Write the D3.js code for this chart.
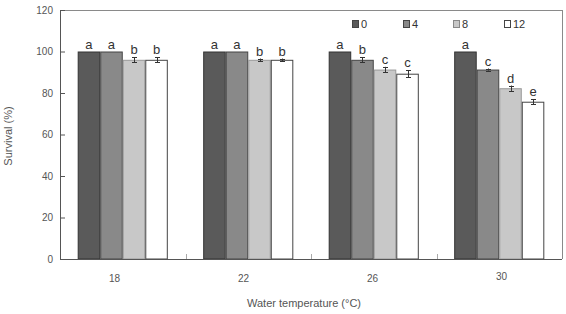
<!DOCTYPE html>
<html><head><meta charset="utf-8">
<script src="https://cdn.jsdelivr.net/npm/d3@7"></script>
<style>body{margin:0;background:#fff}svg{display:block;font-family:"Liberation Sans",Arial,sans-serif}</style>
</head><body>
<svg id="c" width="566" height="314"></svg>
<script>
const categories = ["18","22","26","30"];
const seriesNames = ["0","4","8","12"];
const values = [
  [100, 100, 96, 96],
  [100, 100, 96, 96],
  [100, 96, 91.3, 89.3],
  [100, 91.3, 82.3, 75.8]
];
const errors = [
  [0, 0, 1.2, 1.2],
  [0, 0, 0.6, 0.6],
  [0, 1.2, 1.3, 1.7],
  [0, 0.5, 1.3, 1.2]
];
const letters = [
  ["a","a","b","b"],
  ["a","a","b","b"],
  ["a","b","c","c"],
  ["a","c","d","e"]
];
const yTicks = [0,20,40,60,80,100,120];
const fills = ["#5a5a5a","#898989","#c8c8c8","#ffffff"];
const strokes = ["#333333","#444444","#999999","#444444"];

const svg = d3.select("#c");
const L = 60, R = 562, T = 10, B = 259;
const x0 = d3.scaleBand().domain(categories).range([L, R]).paddingInner(0.282).paddingOuter(0.141);
const x1 = d3.scaleBand().domain(seriesNames).range([0, x0.bandwidth()]);
const y = d3.scaleLinear().domain([0,120]).range([B, T]);
const xLab = d3.scaleBand().domain(categories).range([50, 566]);

// frame top/right
svg.append("line").attr("x1",L).attr("x2",R).attr("y1",T+0.5).attr("y2",T+0.5).attr("stroke","#8a8a8a");
svg.append("line").attr("x1",R+0.5).attr("x2",R+0.5).attr("y1",T).attr("y2",B).attr("stroke","#8a8a8a");

// bars
const g = svg.append("g");
categories.forEach((c,i)=>{
  seriesNames.forEach((s,j)=>{
    const v = values[i][j];
    const bx = x0(c)+x1(s);
    g.append("rect").attr("x",bx+0.5).attr("y",y(v)+0.5).attr("width",x1.bandwidth()-1).attr("height",B-y(v)-0.5)
      .attr("fill",fills[j]).attr("stroke",strokes[j]).attr("stroke-width",1);
    const e = errors[i][j];
    const cx = Math.round(bx + x1.bandwidth()/2)+0.5;
    if (e>0){
      g.append("line").attr("x1",cx).attr("x2",cx).attr("y1",y(v+e)).attr("y2",y(v-e)).attr("stroke","#333");
      [v+e, v-e].forEach(t=>g.append("line").attr("x1",cx-2.5).attr("x2",cx+2.5).attr("y1",Math.round(y(t))+0.5).attr("y2",Math.round(y(t))+0.5).attr("stroke","#333"));
    }
    g.append("text").attr("x",bx + x1.bandwidth()/2).attr("y",y(v+e)-3)
      .attr("text-anchor","middle").attr("font-size",13).attr("fill","#333").text(letters[i][j]);
  });
});

// y axis
const ya = svg.append("g").attr("transform",`translate(${L},0)`)
  .call(d3.axisLeft(y).tickValues(yTicks).tickSizeInner(-5).tickSizeOuter(0).tickPadding(7));
ya.select(".domain").attr("stroke","#555");
ya.selectAll(".tick line").attr("stroke","#555");
ya.selectAll("text").attr("font-size",10).attr("fill","#555").attr("font-family","Liberation Sans, Arial, sans-serif");

// x axis line
svg.append("line").attr("x1",L).attr("x2",R).attr("y1",B+0.5).attr("y2",B+0.5).attr("stroke","#555");
// category boundary ticks
categories.slice(1).forEach(c=>{
  const xx = Math.round(x0(c) - x0.step()*x0.paddingInner()/2)+0.5;
  svg.append("line").attr("x1",xx).attr("x2",xx).attr("y1",B).attr("y2",B-5).attr("stroke","#aaa");
});
// x labels
categories.forEach((c,i)=>{
  svg.append("text").attr("x",xLab(c)+xLab.bandwidth()/2).attr("y", i===3?280:282)
    .attr("text-anchor","middle").attr("font-size",10).attr("fill","#555").text(c);
});

// axis titles
svg.append("text").attr("x",304).attr("y",307).attr("text-anchor","middle").attr("font-size",11).attr("fill","#555").text("Water temperature (°C)");
svg.append("text").attr("transform","translate(12,136) rotate(-90)").attr("text-anchor","middle").attr("font-size",11).attr("fill","#555").text("Survival (%)");

// legend
const legX = [352, 403, 453, 504];
seriesNames.forEach((s,j)=>{
  svg.append("rect").attr("x",legX[j]+0.5).attr("y",20.5).attr("width",6).attr("height",7)
    .attr("fill",fills[j]).attr("stroke",strokes[j]==="#999999"?"#888":"#444");
  svg.append("text").attr("x",legX[j]+9).attr("y",28).attr("font-size",11).attr("fill","#333").text(s);
});
</script>
</body></html>
